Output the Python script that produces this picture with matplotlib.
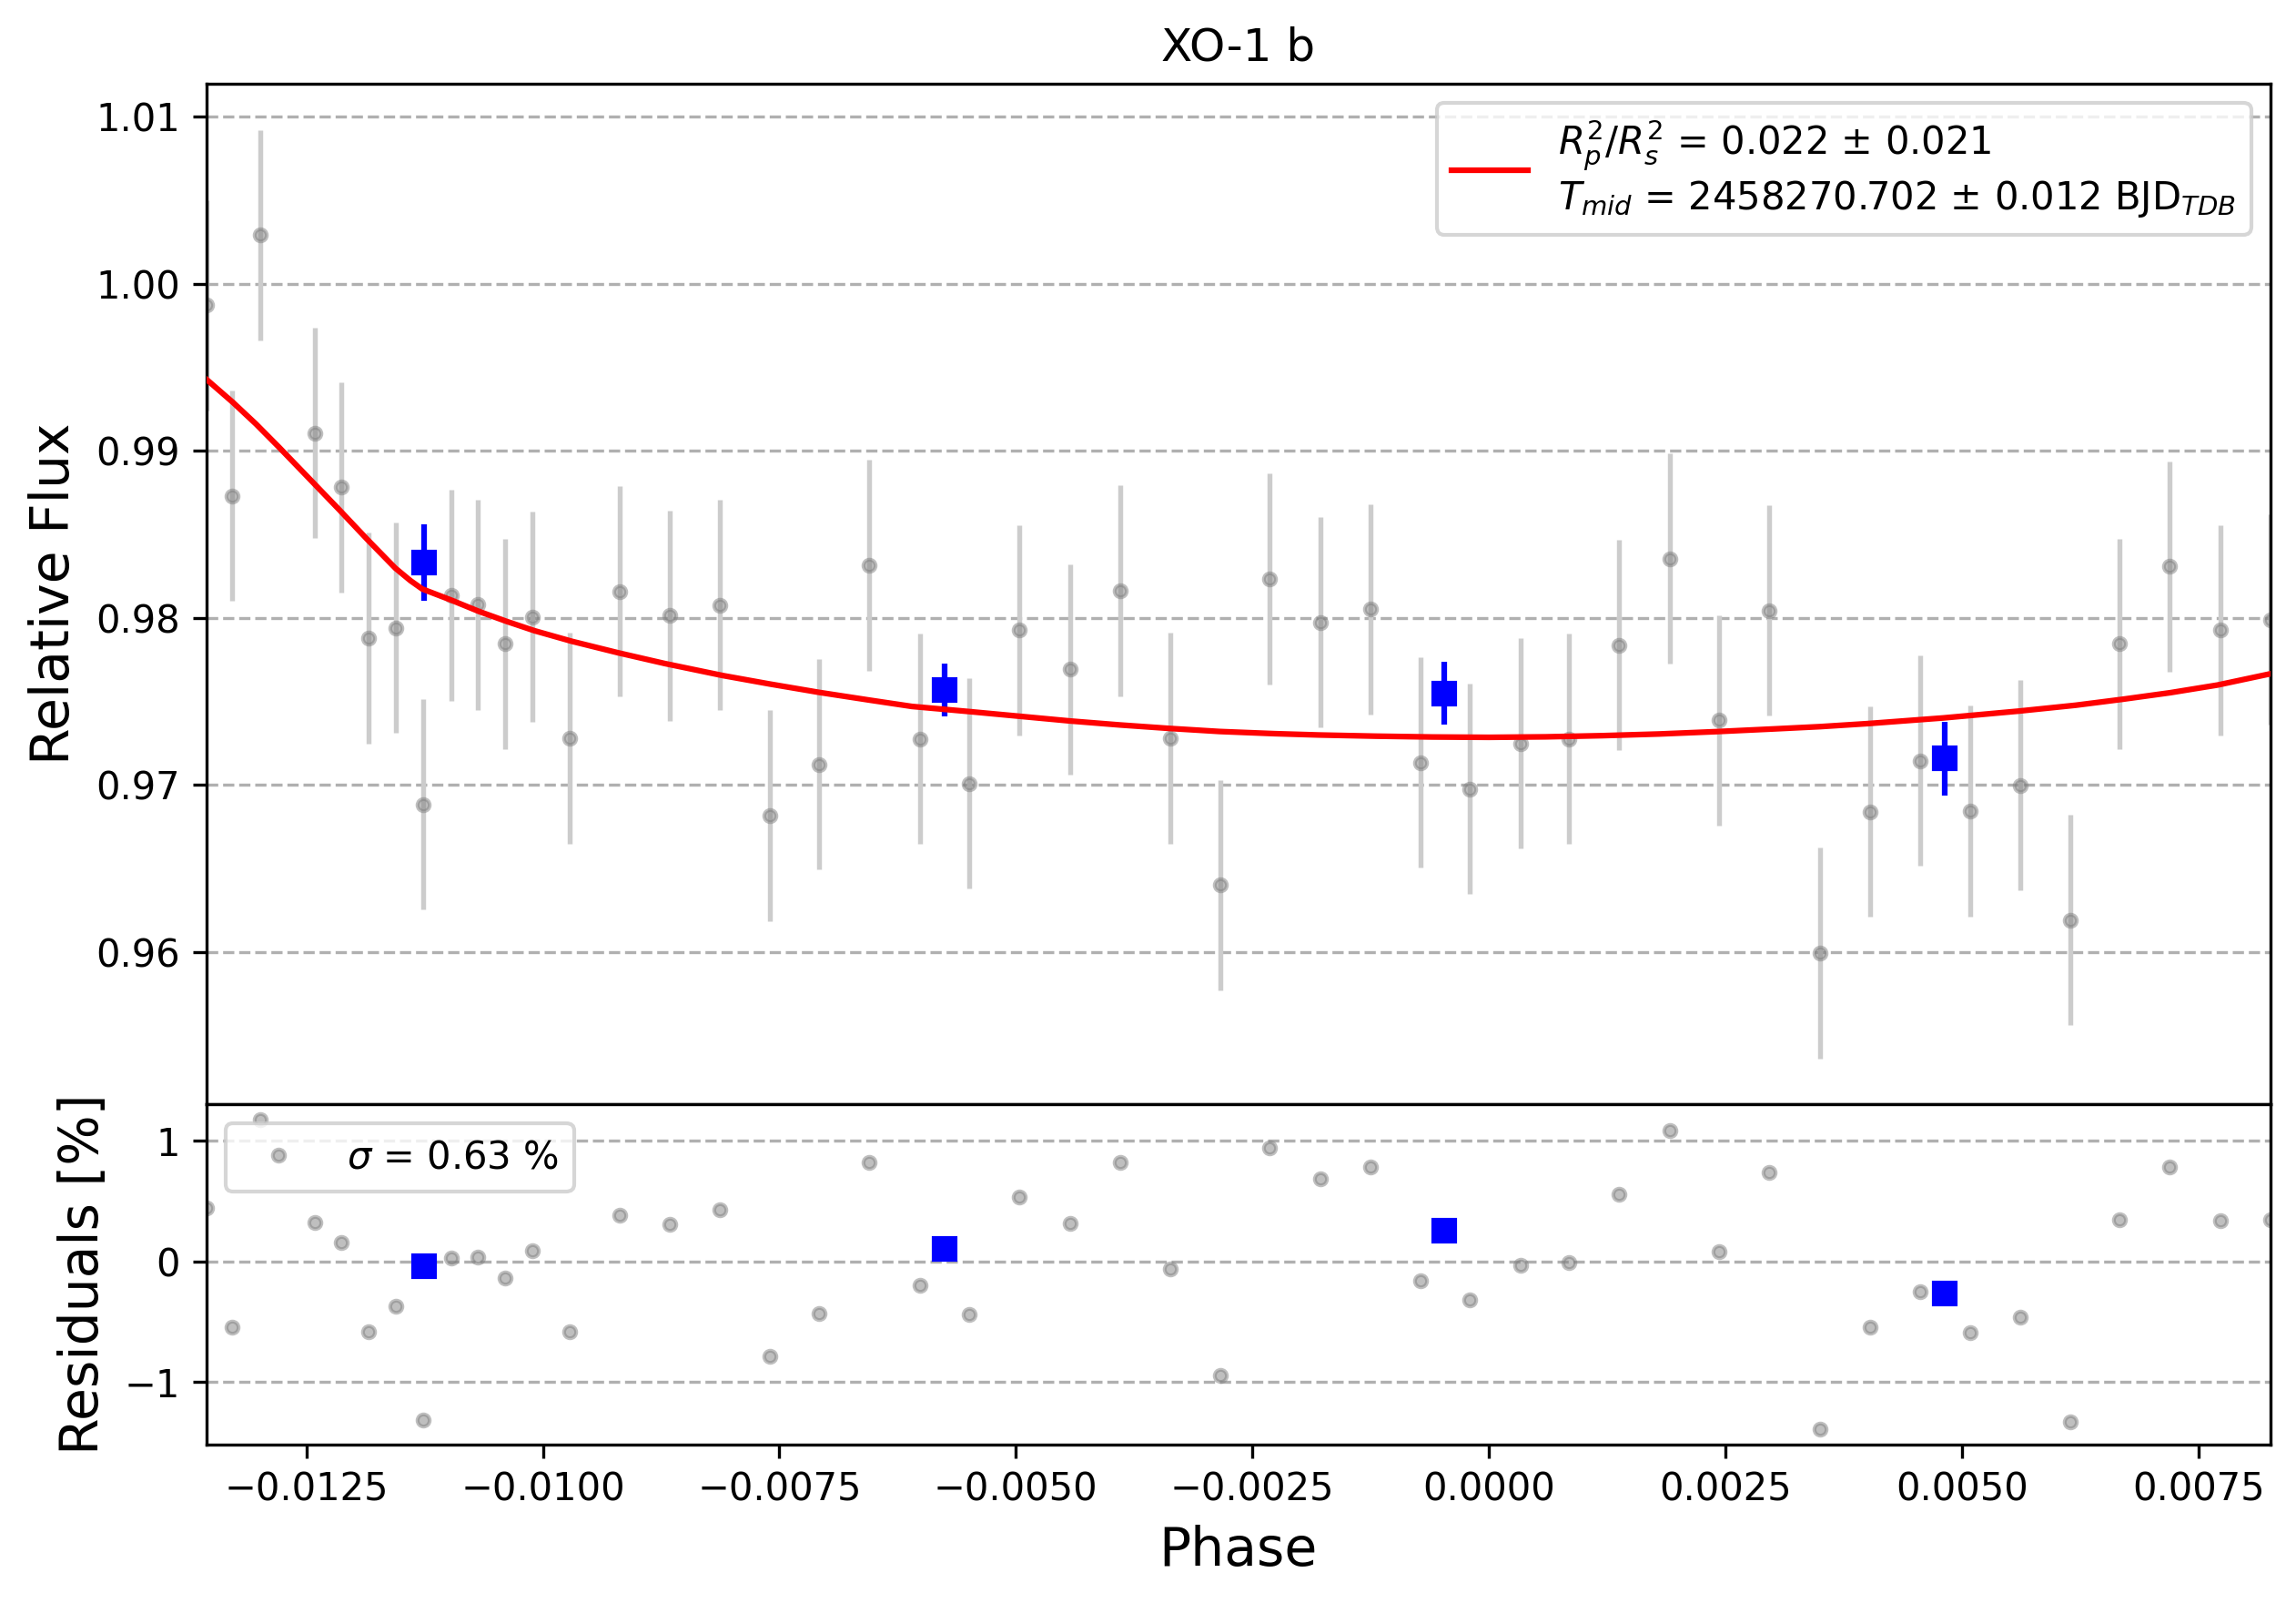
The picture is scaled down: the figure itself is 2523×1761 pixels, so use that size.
import matplotlib
matplotlib.use('Agg')
import matplotlib.pyplot as plt

# ---- data ----
phase = [-0.013556, -0.013283, -0.012992, -0.012407, -0.012129, -0.011840,
         -0.011551, -0.011265, -0.010972, -0.010685, -0.010398, -0.010109,
         -0.009715, -0.009185, -0.008658, -0.008130, -0.007598, -0.007080,
         -0.006549, -0.006010, -0.005493, -0.004961, -0.004430, -0.003902,
         -0.003373, -0.002844, -0.002317, -0.001785, -0.001256, -0.000727,
         -0.000201, 0.000331, 0.000849, 0.001378, 0.001909, 0.002434,
         0.002965, 0.003498, 0.004024, 0.004556, 0.005083, 0.005612,
         0.006143, 0.006667, 0.007198, 0.007729, 0.008257]

flux = [0.99870, 0.98729, 1.00291, 0.99106, 0.98780, 0.97878,
        0.97939, 0.96882, 0.98134, 0.98079, 0.97844, 0.98004,
        0.97279, 0.98157, 0.98012, 0.98075, 0.96815, 0.97122,
        0.98314, 0.97275, 0.97008, 0.97925, 0.97690, 0.98161,
        0.97279, 0.96399, 0.98232, 0.97973, 0.98051, 0.97134,
        0.96976, 0.97247, 0.97275, 0.97835, 0.98353, 0.97385,
        0.98043, 0.95992, 0.96839, 0.97145, 0.96843, 0.96996,
        0.96191, 0.97843, 0.98306, 0.97925, 0.97988]

flux_err = [0.0063, 0.0063, 0.0063, 0.0063, 0.0063, 0.0063,
            0.0063, 0.0063, 0.0063, 0.0063, 0.0063, 0.0063,
            0.0063, 0.0063, 0.0063, 0.0063, 0.0063, 0.0063,
            0.0063, 0.0063, 0.0063, 0.0063, 0.0063, 0.0063,
            0.0063, 0.0063, 0.0063, 0.0063, 0.0063, 0.0063,
            0.0063, 0.0063, 0.0063, 0.0063, 0.0063, 0.0063,
            0.0063, 0.0063, 0.0063, 0.0063, 0.0063, 0.0063,
            0.0063, 0.0063, 0.0063, 0.0063, 0.0063]

residual = [0.443, -0.543, 1.177, 0.325, 0.158, -0.584,
            -0.370, -1.313, 0.025, 0.038, -0.136, 0.086,
            -0.584, 0.385, 0.309, 0.430, -0.785, -0.430,
            0.823, -0.196, -0.438, 0.536, 0.317, 0.823,
            -0.060, -0.941, 0.943, 0.687, 0.785, -0.158,
            -0.317, -0.028, -0.008, 0.558, 1.082, 0.078,
            0.740, -1.386, -0.543, -0.249, -0.589, -0.460,
            -1.328, 0.347, 0.780, 0.335, 0.342]

bin_phase = [-0.011255, -0.005752, -0.000470, 0.004813]
bin_flux = [0.98330, 0.97568, 0.97548, 0.97156]
bin_err = [0.00228, 0.00160, 0.00190, 0.00220]
bin_residual = [-0.038, 0.106, 0.257, -0.264]

model_phase = [-0.013556, -0.013278, -0.013033, -0.012788, -0.012444, -0.012150,
               -0.011855, -0.011560, -0.011400, -0.011275, -0.010971, -0.010677,
               -0.010383, -0.010088, -0.009695, -0.009204, -0.008713, -0.008100,
               -0.007600, -0.007080, -0.006550, -0.006100, -0.005490, -0.004960,
               -0.004430, -0.003900, -0.003370, -0.002850, -0.002270, -0.001800,
               -0.001200, -0.000600, 0.000000, 0.000600, 0.001200, 0.001800,
               0.002400, 0.003000, 0.003500, 0.004000, 0.004800, 0.005600,
               0.006200, 0.006700, 0.007200, 0.007700, 0.008257]
model_flux = [0.99427, 0.99290, 0.99160, 0.99020, 0.98818, 0.98645,
              0.98468, 0.98297, 0.98222, 0.98172, 0.98106, 0.98038,
              0.97978, 0.97922, 0.97859, 0.97790, 0.97726, 0.97654,
              0.97603, 0.97553, 0.97507, 0.97469, 0.97438, 0.97410,
              0.97382, 0.97358, 0.97337, 0.97319, 0.97306, 0.97298,
              0.97291, 0.97286, 0.97284, 0.97287, 0.97294, 0.97304,
              0.97318, 0.97334, 0.97348, 0.97366, 0.97400, 0.97441,
              0.97476, 0.97512, 0.97551, 0.97597, 0.97664]

main_yticks = [0.96, 0.97, 0.98, 0.99, 1.00, 1.01]
res_yticks = [-1, 0, 1]
x_ticks = [-0.0125, -0.0100, -0.0075, -0.0050, -0.0025, 0.0000, 0.0025, 0.0050, 0.0075]

model_label = ("$R^2_p/R^2_s$ = 0.022 \u00b1 0.021\n"
               "$T_{mid}$ = 2458270.702 \u00b1 0.012 BJD$_{TDB}$")
sigma_label = r"$\sigma$ = 0.63 %"

# ---- figure ----
fig = plt.figure(figsize=(8.41, 5.87), dpi=300)
ax1 = fig.add_axes([0.08993, 0.31101, 0.89880, 0.63675])
ax2 = fig.add_axes([0.08993, 0.09898, 0.89880, 0.21203], sharex=ax1)

# main panel
ax1.errorbar(phase, flux, yerr=flux_err, fmt='none', ecolor='#cccccc',
             elinewidth=1.3, capsize=0, zorder=2)
ax1.plot(phase, flux, 'o', color='gray', alpha=0.5, ms=3.2, mew=1.0,
         zorder=2.5, linestyle='none')
ax1.errorbar(bin_phase, bin_flux, yerr=bin_err, fmt='s', color='blue',
             ms=5.8, elinewidth=1.5, capsize=0, zorder=3)
ax1.plot(model_phase, model_flux, color='red', lw=1.5, label=model_label, zorder=4)
ax1.legend(loc='upper right', fontsize=10)
ax1.set_ylabel('Relative Flux', fontsize=14)
ax1.set_title('XO-1 b', fontsize=12)
ax1.grid(True, axis='y', linestyle='--')
ax1.set_yticks(main_yticks)
ax1.set_ylim(0.95086, 1.01197)
ax1.set_xlim(phase[0], phase[-1])
ax1.tick_params(axis='x', bottom=False, labelbottom=False)

# residual panel
ax2.plot(phase, residual, 'o', color='gray', alpha=0.5, ms=3.2, mew=1.0,
         linestyle='none', label=sigma_label, zorder=2.5)
ax2.plot(bin_phase, bin_residual, 's', color='blue', ms=5.8, linestyle='none', zorder=3)
ax2.legend(loc='upper left', fontsize=10)
ax2.grid(True, axis='y', linestyle='--')
ax2.set_yticks(res_yticks)
ax2.set_ylim(-1.514, 1.300)
ax2.set_xticks(x_ticks)
ax2.set_xlim(phase[0], phase[-1])
ax2.set_xlabel('Phase', fontsize=14)
ax2.set_ylabel('Residuals [%]', fontsize=14)

fig.savefig('out.png', dpi=300)
